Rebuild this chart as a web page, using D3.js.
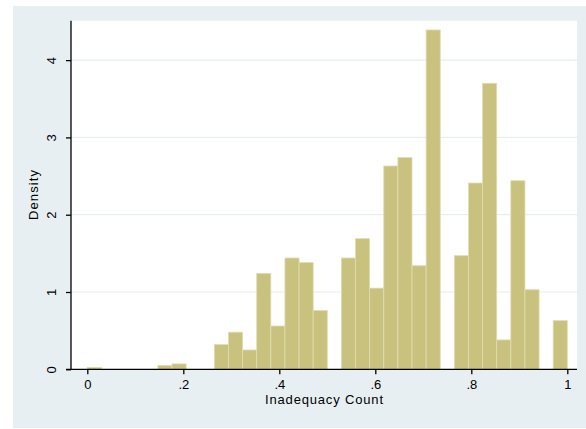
<!DOCTYPE html>
<html>
<head>
<meta charset="utf-8">
<script src="https://cdn.jsdelivr.net/npm/d3@7"></script>
<style>
  html, body { margin: 0; padding: 0; background: #ffffff; }
  #chart { width: 586px; height: 429px; }
</style>
</head>
<body>
<div id="chart"></div>
<script>
// histogram: 34 equal bins from 0 to 1, density per bin
const binRange = [0, 1];
const densities = [
    0.025, 0, 0, 0, 0, 0.05, 0.07, 0, 0, 0.32,
    0.48, 0.25, 1.24, 0.56, 1.44, 1.38, 0.76, 0, 1.44, 1.69,
    1.05, 2.63, 2.74, 1.34, 4.39, 0, 1.47, 2.41, 3.70, 0.38,
    2.44, 1.03, 0, 0.63
];
const xTicks = [0, 0.2, 0.4, 0.6, 0.8, 1];
const xTickLabels = ["0", ".2", ".4", ".6", ".8", "1"];
const yTicks = [0, 1, 2, 3, 4];
const xTitle = "Inadequacy Count";
const yTitle = "Density";

function renderHistogram(selector = "#chart") {
    const container = d3.select(selector);
    container.html("");

    const width = 586;
    const height = 429;
    const plot = { left: 71, right: 577, top: 20.7, bottom: 369.3 };

    const svg = container.append("svg")
        .attr("width", width)
        .attr("height", height)
        .style("display", "block")
        .style("font-family", "'Liberation Sans', Arial, sans-serif");

    // outer graph region
    svg.append("rect")
        .attr("x", 13).attr("y", 6)
        .attr("width", width - 13).attr("height", 422)
        .attr("fill", "#e8eff2");

    // plot region
    svg.append("rect")
        .attr("x", plot.left).attr("y", plot.top)
        .attr("width", plot.right - plot.left)
        .attr("height", plot.bottom - plot.top)
        .attr("fill", "#ffffff");

    const x = d3.scaleLinear().domain([0, 1]).range([87.3, 567.3]);
    const y = d3.scaleLinear().domain([0, 4.51]).range([plot.bottom, plot.top]);

    const nBins = densities.length;
    const step = (binRange[1] - binRange[0]) / nBins;
    const bins = densities.map((d, i) => ({
        x0: binRange[0] + i * step,
        x1: binRange[0] + (i + 1) * step,
        v: d
    })).filter(b => b.v > 0);

    // gridlines
    svg.append("g")
        .selectAll("line")
        .data(yTicks.filter(t => t > 0))
        .join("line")
        .attr("x1", plot.left).attr("x2", plot.right)
        .attr("y1", d => y(d)).attr("y2", d => y(d))
        .attr("stroke", "#e6eef1")
        .attr("stroke-width", 1.2);

    // bars
    svg.append("g")
        .selectAll("rect")
        .data(bins)
        .join("rect")
        .attr("x", d => x(d.x0))
        .attr("y", d => y(d.v))
        .attr("width", d => x(d.x1) - x(d.x0))
        .attr("height", d => y(0) - y(d.v))
        .attr("fill", "#c9c27e")
        .attr("stroke", "#e0dcb2")
        .attr("stroke-width", 0.8);

    // x axis
    const xAxis = svg.append("g")
        .attr("transform", `translate(0,${plot.bottom})`)
        .call(d3.axisBottom(x)
            .tickValues(xTicks)
            .tickFormat((d, i) => xTickLabels[i])
            .tickSize(5)
            .tickPadding(5));
    xAxis.select(".domain").remove();
    xAxis.selectAll("line").attr("stroke", "#000").attr("stroke-width", 1.3);
    xAxis.selectAll("text").attr("font-size", 13).attr("fill", "#000")
        .attr("font-family", "'Liberation Sans', Arial, sans-serif");
    svg.append("line")
        .attr("x1", 66).attr("x2", plot.right)
        .attr("y1", plot.bottom).attr("y2", plot.bottom)
        .attr("stroke", "#000").attr("stroke-width", 1.3);

    // y axis, labels turned to read upward
    const yAxis = svg.append("g")
        .attr("transform", `translate(${plot.left},0)`)
        .call(d3.axisLeft(y)
            .tickValues(yTicks)
            .tickFormat(d3.format("d"))
            .tickSize(5));
    yAxis.select(".domain").remove();
    yAxis.selectAll("line").attr("stroke", "#000").attr("stroke-width", 1.3);
    yAxis.selectAll("text")
        .attr("font-size", 13).attr("fill", "#000")
        .attr("font-family", "'Liberation Sans', Arial, sans-serif")
        .attr("x", 0).attr("y", 0).attr("dy", null)
        .attr("text-anchor", "middle")
        .attr("transform", "translate(-15,0) rotate(-90)");
    svg.append("line")
        .attr("x1", plot.left).attr("x2", plot.left)
        .attr("y1", plot.top).attr("y2", plot.bottom)
        .attr("stroke", "#000").attr("stroke-width", 1.3);

    // titles
    svg.append("text")
        .attr("x", (plot.left + plot.right) / 2)
        .attr("y", 404)
        .attr("text-anchor", "middle")
        .attr("font-size", 13)
        .attr("textLength", 118)
        .attr("lengthAdjust", "spacing")
        .text(xTitle);

    svg.append("text")
        .attr("transform", `translate(38,${(plot.top + plot.bottom) / 2}) rotate(-90)`)
        .attr("text-anchor", "middle")
        .attr("font-size", 13)
        .attr("textLength", 50)
        .attr("lengthAdjust", "spacing")
        .text(yTitle);
}

renderHistogram();
</script>
</body>
</html>
